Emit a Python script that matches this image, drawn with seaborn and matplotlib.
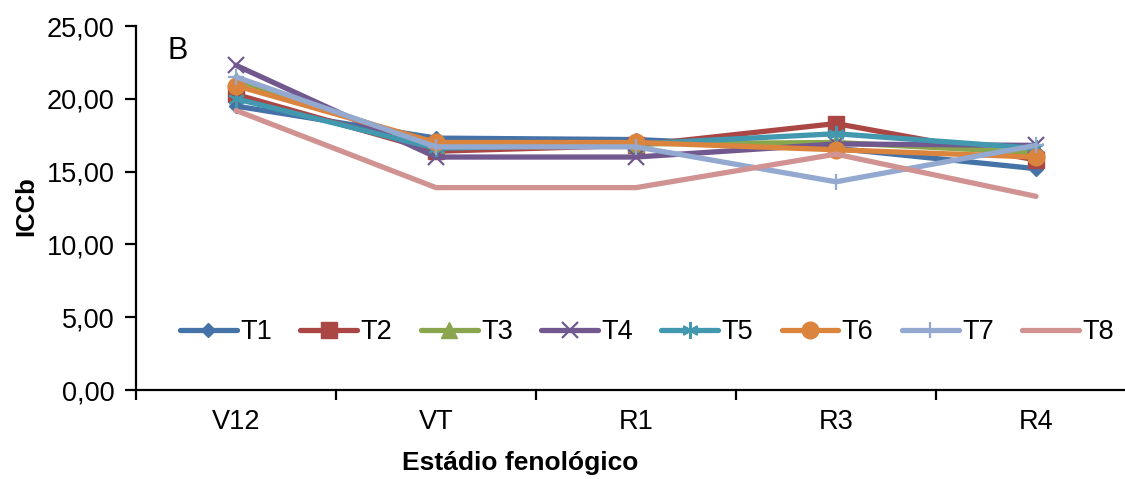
import numpy as np
import pandas as pd
import matplotlib
matplotlib.use("Agg")
import matplotlib.pyplot as plt
import seaborn as sns
from matplotlib.ticker import FixedLocator, FuncFormatter

sns.set_theme(style="white")
plt.rcParams['font.family'] = ['Liberation Sans', 'DejaVu Sans']
plt.rcParams['text.color'] = 'black'
plt.rcParams['axes.labelcolor'] = 'black'

stages = ["V12", "VT", "R1", "R3", "R4"]
treatments = ["T1", "T2", "T3", "T4", "T5", "T6", "T7", "T8"]
T1 = [19.5, 17.3, 17.2, 16.6, 15.2]
T2 = [20.3, 16.4, 16.8, 18.3, 15.8]
T3 = [21.3, 16.8, 16.9, 17.0, 16.3]
T4 = [22.3, 16.0, 16.0, 16.9, 16.8]
T5 = [20.0, 16.6, 16.9, 17.6, 16.6]
T6 = [20.9, 17.0, 17.0, 16.5, 16.0]
T7 = [21.5, 16.7, 16.7, 14.3, 16.8]
T8 = [19.2, 13.9, 13.9, 16.2, 13.3]
series = [T1, T2, T3, T4, T5, T6, T7, T8]
yticks = [0, 5, 10, 15, 20, 25]

colors = ["#4572A7", "#AA4643", "#89A54E", "#71588F", "#4198AF", "#DB843D", "#93A9CF", "#D19392"]
markers = ["D", "s", "^", "x", (6, 2, 0), "o", "+", None]
msizes = [7.5, 11, 11, 12, 12, 12, 12, 0]
mews = [1, 1, 1, 1.6, 1.6, 1, 1.6, 1]

fig = plt.figure(figsize=(11.25, 4.79), dpi=100)
ax = fig.add_axes([136/1125, 89/479, 1000/1125, 364/479])

xpos = np.arange(len(stages))
for name, vals, c, m, ms, mew in zip(treatments, series, colors, markers, msizes, mews):
    df = pd.DataFrame({"x": xpos, "y": vals})
    kw = dict(marker=m, markersize=ms, markeredgecolor=c, markerfacecolor=c,
              markeredgewidth=mew) if m is not None else {}
    sns.lineplot(data=df, x="x", y="y", ax=ax, color=c, linewidth=3.8,
                 label=name, sort=False, solid_capstyle="round", **kw)

ax.set_xlim(-0.5, len(stages) - 0.5)
ax.set_ylim(0, 25)
ax.set_yticks(yticks)
ax.yaxis.set_major_formatter(FuncFormatter(lambda v, p: f"{v:.2f}".replace(".", ",")))
ax.set_xticks(xpos)
ax.set_xticklabels(stages)
ax.xaxis.set_minor_locator(FixedLocator(np.arange(-0.5, len(stages), 1.0)))
ax.tick_params(axis="x", which="major", length=0, pad=14, labelsize=19.5, colors="black")
ax.tick_params(axis="x", which="minor", length=7, width=1.6, direction="out", bottom=True, color="black")
ax.tick_params(axis="y", which="major", length=8, width=1.6, direction="out", left=True, pad=7.5, labelsize=19.5, colors="black")

for s in ["top", "right"]:
    ax.spines[s].set_visible(False)
for s in ["left", "bottom"]:
    ax.spines[s].set_color("black")
    ax.spines[s].set_linewidth(1.6)

ax.set_xlabel("Estádio fenológico", fontsize=19, fontweight="bold", color="black")
ax.xaxis.set_label_coords(0.384, -0.168)
ax.set_ylabel("ICCb", fontsize=18.5, fontweight="bold", color="black")
ax.yaxis.set_label_coords(-0.098, 0.505)

ax.text(0.032, 0.931, "B", transform=ax.transAxes, fontsize=22, ha="left", va="center", color="black")

leg = ax.legend(loc="center", bbox_to_anchor=(0.511, 0.159), ncol=8, frameon=False,
                fontsize=19.5, handlelength=2.1, handletextpad=0.12, columnspacing=1.05,
                numpoints=1)
for t in leg.get_texts():
    t.set_color("black")

fig.savefig("out.png", dpi=100)
